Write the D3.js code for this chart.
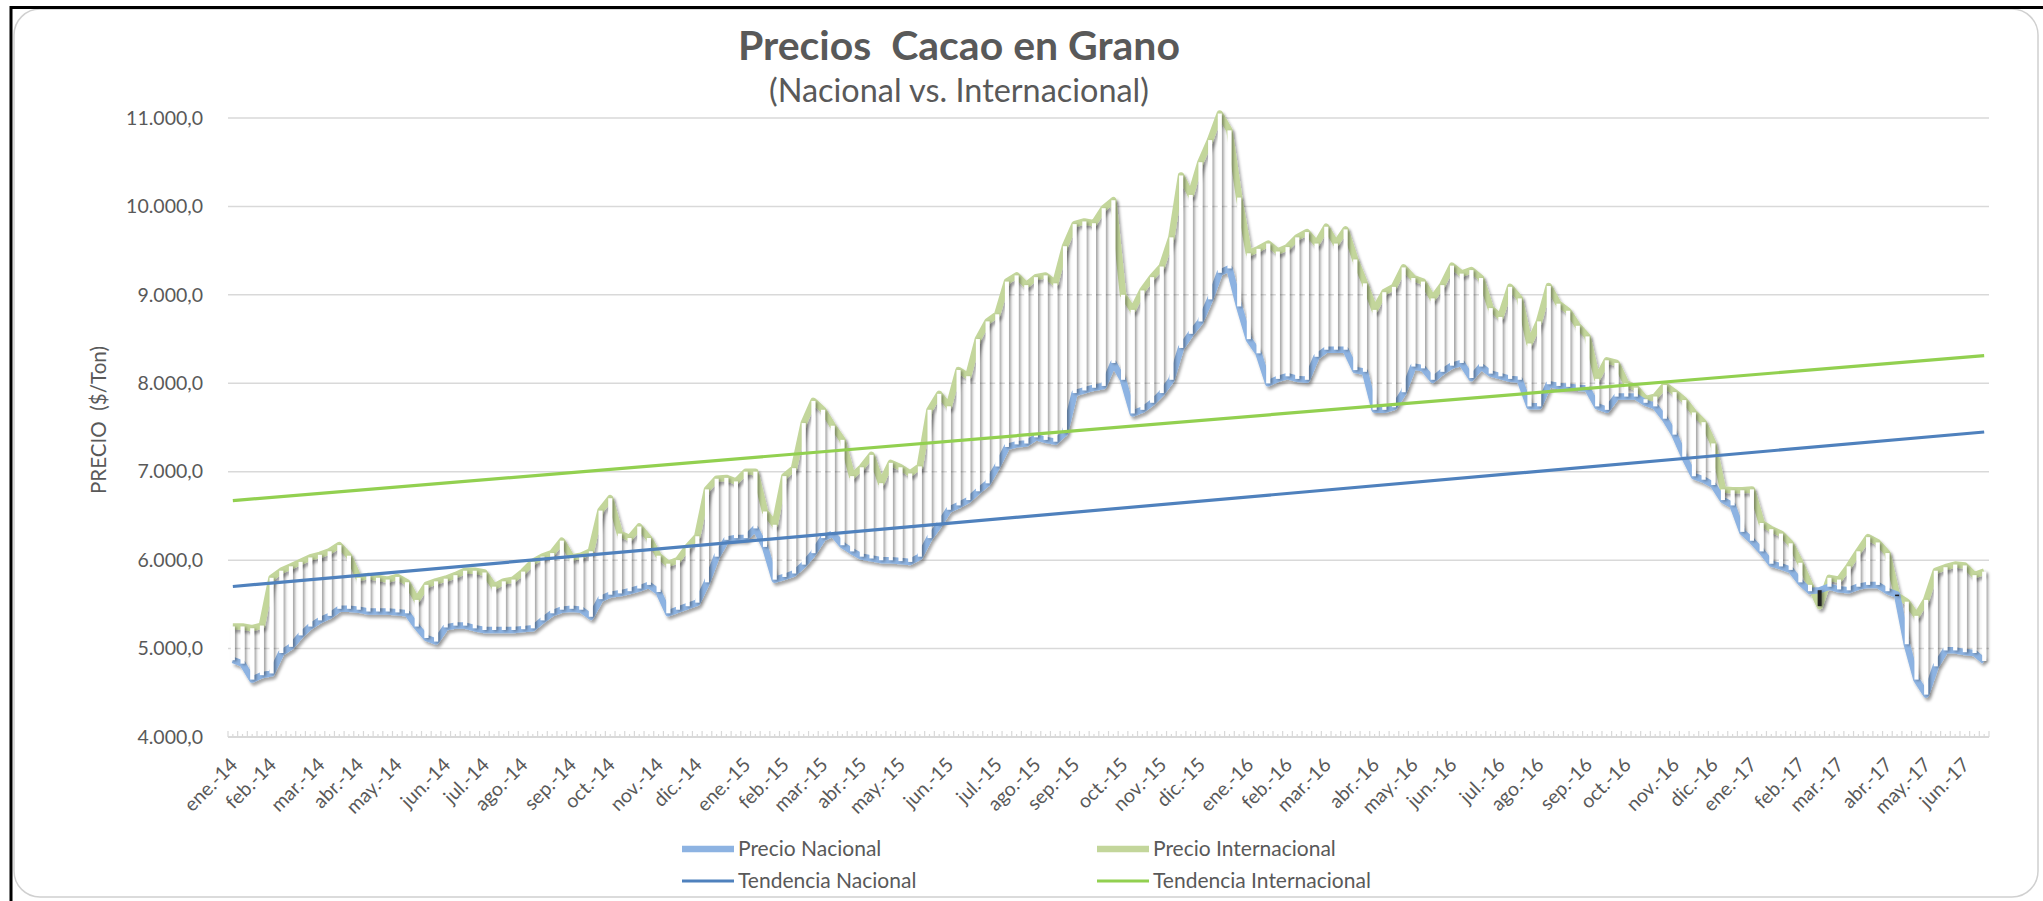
<!DOCTYPE html>
<html><head><meta charset="utf-8">
<script src="https://cdn.jsdelivr.net/npm/d3@7"></script>
<style>
body{margin:0;background:#fff;}
svg{display:block;font-family:Lato,"Open Sans",sans-serif;}
</style>
</head><body>
<svg id="c" width="2043" height="901"></svg>
<script>
// ---------------- DATA ----------------
const monthLabels = ["ene.-14","feb.-14","mar.-14","abr.-14","may.-14","jun.-14","jul.-14","ago.-14","sep.-14","oct.-14","nov.-14","dic.-14",
  "ene.-15","feb.-15","mar.-15","abr.-15","may.-15","jun.-15","jul.-15","ago.-15","sep.-15","oct.-15","nov.-15","dic.-15",
  "ene.-16","feb.-16","mar.-16","abr.-16","may.-16","jun.-16","jul.-16","ago.-16","sep.-16","oct.-16","nov.-16","dic.-16",
  "ene.-17","feb.-17","mar.-17","abr.-17","may.-17","jun.-17"];
const monthWeek = [0,4,9,13,17,22,26,30,35,39,44,48,
  53,57,61,65,69,74,79,83,87,92,96,100,
  105,109,113,118,122,126,131,135,140,144,149,153,
  157,162,166,171,175,179];
const yTicks = [4000,5000,6000,7000,8000,9000,10000,11000];
const seriesNames = ["Precio Nacional","Precio Internacional","Tendencia Nacional","Tendencia Internacional"];

const internacional = [
 5250,5250,5230,5260,5800,5880,5930,5980,6030,6060,
 6100,6170,6050,5800,5820,5800,5780,5810,5750,5550,
 5720,5760,5790,5830,5880,5880,5860,5700,5760,5780,
 5870,5980,6040,6080,6220,6030,6050,6100,6560,6700,
 6300,6250,6380,6250,6050,5960,6000,6150,6270,6800,
 6920,6930,6890,7000,7000,6550,6400,6950,7040,7550,
 7800,7700,7520,7360,6950,7050,7190,6870,7100,7050,
 6980,7060,7700,7880,7740,8150,8080,8500,8700,8780,
 9150,9220,9110,9200,9220,9130,9550,9800,9830,9810,
 9980,10070,9000,8830,9050,9200,9320,9650,10350,10130,
 10500,10750,11050,10860,10100,9470,9520,9580,9490,9540,
 9650,9710,9580,9770,9580,9740,9400,9130,8830,9030,
 9090,9310,9190,9150,8960,9110,9330,9240,9280,9190,
 8850,8750,9090,8960,8450,8700,9100,8900,8820,8650,
 8530,8050,8260,8230,8000,7950,7820,7850,7980,7900,
 7810,7670,7560,7320,6800,6790,6790,6800,6420,6350,
 6300,6190,5970,5720,5480,5800,5780,5930,6100,6260,
 6200,6080,5600,5530,5370,5550,5880,5920,5950,5940,
 5830,5870];
const nacional = [
 4870,4830,4650,4700,4720,4950,5020,5150,5250,5320,
 5370,5450,5450,5440,5420,5420,5420,5410,5400,5250,
 5120,5080,5240,5260,5260,5230,5210,5210,5210,5210,
 5220,5230,5320,5400,5440,5450,5440,5360,5560,5610,
 5625,5650,5680,5720,5640,5400,5440,5480,5520,5750,
 6040,6230,6250,6250,6360,6150,5780,5810,5850,5950,
 6080,6250,6300,6170,6100,6040,6020,6000,6000,5990,
 5980,6040,6250,6400,6570,6620,6680,6780,6870,7060,
 7280,7310,7320,7390,7360,7340,7440,7890,7920,7950,
 7970,8230,8040,7660,7700,7780,7890,8040,8400,8560,
 8700,8950,9250,9300,8870,8500,8340,8000,8050,8080,
 8050,8040,8300,8380,8380,8380,8150,8130,7700,7700,
 7730,7900,8190,8170,8040,8130,8200,8230,8060,8190,
 8110,8080,8050,8040,7740,7740,7990,7970,7960,7950,
 7940,7740,7700,7850,7850,7850,7780,7740,7600,7420,
 7170,6950,6910,6850,6680,6620,6320,6220,6100,5960,
 5930,5890,5750,5650,5660,5700,5670,5660,5700,5720,
 5720,5650,5610,5050,4650,4480,4800,4980,4980,4960,
 4950,4860];

// ---------------- CHART ----------------
const svg = d3.select("#c");
const C = {text:"#595959", grid:"#d9d9d9", nat:"#8db3e2", intl:"#c3d69b", tnat:"#4f81bd", tintl:"#92d050"};
const defs = svg.append("defs");
defs.append("filter").attr("id","sh").attr("x","-20%").attr("y","-20%").attr("width","140%").attr("height","160%")
  .append("feDropShadow").attr("dx",2).attr("dy",3).attr("stdDeviation",1.6).attr("flood-color","#000").attr("flood-opacity",0.35);
defs.append("filter").attr("id","shb").attr("x","-100%").attr("y","-5%").attr("width","300%").attr("height","110%")
  .append("feDropShadow").attr("dx",2).attr("dy",1).attr("stdDeviation",1.5).attr("flood-color","#000").attr("flood-opacity",0.4);

// frame
svg.append("rect").attr("x",14).attr("y",9).attr("width",2024).attr("height",888).attr("rx",26)
  .attr("fill","#fff").attr("stroke","#d0d0d0").attr("stroke-width",1.5);
svg.append("path").attr("d","M11,901 L11,7.5 L2043,7.5").attr("fill","none").attr("stroke","#000").attr("stroke-width",3);

const weeks = d3.range(nacional.length);
const x = d3.scaleBand().domain(weeks).range([228,1989]).padding(0);
const cx = i => x(i) + x.bandwidth()/2;
const y = d3.scaleLinear().domain([4000,11000]).range([737,118]);
const loc = d3.formatLocale({decimal:",", thousands:".", grouping:[3], currency:["$",""]});
const fmt = loc.format(",.1f");

// gridlines
svg.append("g").selectAll("line").data(yTicks.slice(1)).join("line")
  .attr("x1",228).attr("x2",1989).attr("y1",d=>y(d)).attr("y2",d=>y(d))
  .attr("stroke",C.grid).attr("stroke-width",1.5);

// y axis labels
const yAxis = svg.append("g").attr("transform","translate(228,0)")
  .call(d3.axisLeft(y).tickValues(yTicks).tickFormat(fmt).tickSize(0).tickPadding(25));
yAxis.select(".domain").remove();
yAxis.selectAll("text").attr("fill",C.text).style("font-size","19.5px").style("font-family","Lato");

// x axis
svg.append("line").attr("x1",228).attr("x2",1989).attr("y1",737).attr("y2",737).attr("stroke",C.grid).attr("stroke-width",2);
const xt = svg.append("g");
xt.selectAll("line.maj").data(d3.range(nacional.length+1)).join("line").attr("class","maj")
  .attr("x1",d=>228+d*x.bandwidth()).attr("x2",d=>228+d*x.bandwidth()).attr("y1",737).attr("y2",731)
  .attr("stroke",C.grid).attr("stroke-width",1.2);
xt.selectAll("line.min").data(weeks).join("line").attr("class","min")
  .attr("x1",d=>cx(d)).attr("x2",d=>cx(d)).attr("y1",737).attr("y2",734)
  .attr("stroke",C.grid).attr("stroke-width",1.2);
svg.append("g").selectAll("text").data(monthLabels).join("text")
  .attr("transform",(d,i)=>`translate(${cx(monthWeek[i])+6},766) rotate(-45)`)
  .attr("text-anchor","end").attr("fill",C.text).style("font-size","19.5px").text(d=>d);

// series lines
const lineGen = d3.line().x((d,i)=>cx(i)).y(d=>y(d));
const lg = svg.append("g").attr("filter","url(#sh)");
lg.append("path").datum(internacional).attr("d",lineGen).attr("fill","none").attr("stroke",C.intl).attr("stroke-width",6.5).attr("stroke-linejoin","round");
lg.append("path").datum(nacional).attr("d",lineGen).attr("fill","none").attr("stroke",C.nat).attr("stroke-width",6.5).attr("stroke-linejoin","round");

// up / down bars
const bw = 4;
svg.append("g").attr("filter","url(#shb)").selectAll("rect").data(weeks).join("rect")
  .attr("x",i=>cx(i)-bw/2).attr("width",bw)
  .attr("y",i=>y(Math.max(nacional[i],internacional[i])))
  .attr("height",i=>Math.max(1.5,Math.abs(y(nacional[i])-y(internacional[i]))))
  .attr("fill",i=>internacional[i]>=nacional[i]?"#fff":"#222");

// linear trend lines (least squares)
function trend(vals){
  const n=vals.length, mx=d3.mean(weeks), my=d3.mean(vals);
  let sxy=0,sxx=0; vals.forEach((v,i)=>{sxy+=(i-mx)*(v-my); sxx+=(i-mx)*(i-mx);});
  const b=sxy/sxx, a=my-b*mx; return [[0,a],[n-1,a+b*(n-1)]];
}
const tl = d3.line().x(d=>cx(d[0])).y(d=>y(d[1]));
svg.append("path").attr("d",tl(trend(internacional))).attr("stroke",C.tintl).attr("stroke-width",3.2).attr("fill","none");
svg.append("path").attr("d",tl(trend(nacional))).attr("stroke",C.tnat).attr("stroke-width",3.2).attr("fill","none");

// titles
function fit(sel, w){ const L=sel.node().getComputedTextLength(); const fs=parseFloat(sel.style("font-size")); sel.style("font-size",(fs*w/L)+"px"); }
const t1 = svg.append("text").attr("x",959).attr("y",60).attr("text-anchor","middle").attr("fill",C.text)
  .style("font-weight","bold").style("font-size","36px").style("white-space","pre").text("Precios  Cacao en Grano");
fit(t1,442);
const t2 = svg.append("text").attr("x",959).attr("y",102).attr("text-anchor","middle").attr("fill",C.text)
  .style("font-size","26px").text("(Nacional vs. Internacional)");
fit(t2,380);
const t3 = svg.append("text").attr("transform","translate(106,420) rotate(-90)").attr("text-anchor","middle")
  .attr("fill",C.text).style("font-size","16px").style("white-space","pre").text("PRECIO  ($/Ton)");
fit(t3,148);

// legend
const leg = [
  {n:seriesNames[0], c:C.nat, w:6.5, x:682, y:849},
  {n:seriesNames[1], c:C.intl, w:6.5, x:1097, y:849},
  {n:seriesNames[2], c:C.tnat, w:3.2, x:682, y:881},
  {n:seriesNames[3], c:C.tintl, w:3.2, x:1097, y:881}];
const lgG = svg.append("g").selectAll("g").data(leg).join("g").attr("transform",d=>`translate(${d.x},${d.y})`);
lgG.append("line").attr("x1",0).attr("x2",52).attr("stroke",d=>d.c).attr("stroke-width",d=>d.w);
lgG.append("text").attr("x",56).attr("dy","0.35em").attr("fill",C.text).style("font-size","21px").text(d=>d.n);
</script>
</body></html>
